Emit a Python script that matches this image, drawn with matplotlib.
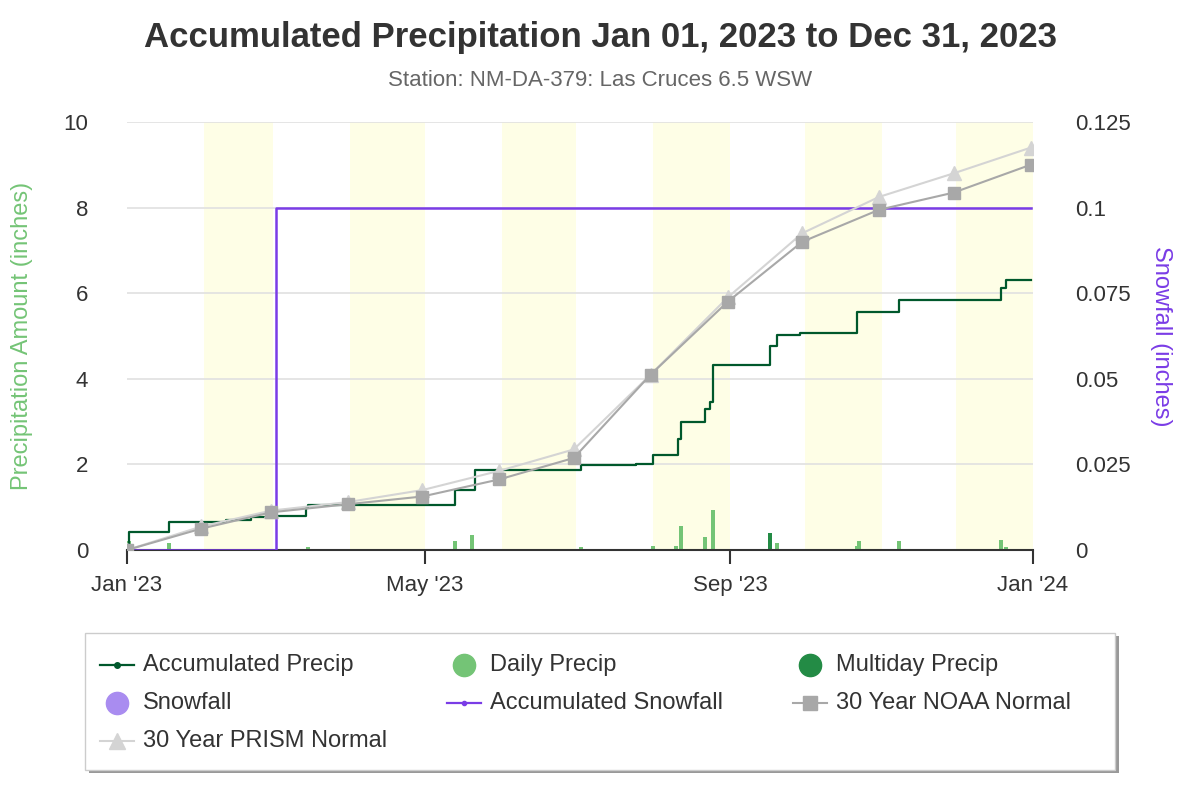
import matplotlib
matplotlib.use("Agg")
import matplotlib.pyplot as plt
from matplotlib.lines import Line2D
from matplotlib.patches import FancyBboxPatch
import datetime as dt
import numpy as np

plt.rcParams['font.family'] = ['Liberation Sans', 'DejaVu Sans']

start = dt.date(2023, 1, 1)
acc_days = [0, 1, 17, 40, 50, 57, 72, 73, 132, 140, 183, 205, 212, 222, 223, 233, 235, 236, 259, 262, 271, 294, 311, 352, 354, 364]
acc_vals = [0.0, 0.43, 0.66, 0.70, 0.76, 0.80, 0.98, 1.04, 1.40, 1.86, 1.98, 2.0, 2.23, 2.60, 2.98, 3.30, 3.45, 4.33, 4.77, 5.03, 5.07, 5.56, 5.84, 6.12, 6.30, 6.30]
daily_days = [1, 17, 73, 132, 139, 183, 212, 221, 223, 233, 236, 262, 294, 295, 311, 352, 354]
daily_vals = [0.2, 0.17, 0.08, 0.22, 0.35, 0.06, 0.1, 0.1, 0.55, 0.3, 0.93, 0.17, 0.1, 0.22, 0.22, 0.23, 0.08]
multi_days = [259]
multi_vals = [0.4]
snow_days = [0, 59, 60, 364]
snow_vals = [0.0, 0.0, 0.1, 0.1]
norm_days = [0, 30, 58, 89, 119, 150, 180, 211, 242, 272, 303, 333, 364]
noaa_vals = [0.0, 0.50, 0.88, 1.07, 1.25, 1.65, 2.15, 4.10, 5.80, 7.20, 7.95, 8.35, 9.00]
prism_vals = [0.0, 0.55, 0.92, 1.12, 1.40, 1.85, 2.35, 4.10, 5.90, 7.40, 8.25, 8.80, 9.40]

d = lambda days: [start + dt.timedelta(days=int(x)) for x in days]

fig = plt.figure(figsize=(12, 8), dpi=100)
ax = fig.add_axes([127/1200, 1-550/800, (1033-127)/1200, (550-122)/800])
ax2 = ax.twinx()

for m in [2, 4, 6, 8, 10, 12]:
    s = dt.date(2023, m, 1)
    e = dt.date(2023, m+1, 1) if m < 12 else dt.date(2024, 1, 1)
    ax.axvspan(s, e, color='#fefee6', zorder=0, lw=0)

for y in [2, 4, 6, 8, 10]:
    ax.axhline(y, color='#e0e0e0', lw=1.2, zorder=1)

ax.bar(d(daily_days), daily_vals, width=1.6, color='#74c476', zorder=2)
ax.bar(d(multi_days), multi_vals, width=1.6, color='#238b45', zorder=2)
ax.step(d(acc_days), acc_vals, where='post', color='#00582c', lw=1.6, zorder=4)
ax.plot(d(norm_days), prism_vals, color='#d4d4d4', lw=1.5, marker='^', ms=10, zorder=5)
ax.plot(d(norm_days), noaa_vals, color='#a8a8a8', lw=1.5, marker='s', ms=9, zorder=5)
# snowfall drawn on right-axis scale (0..0.125 maps to 0..10)
ax.step(d(snow_days), np.array(snow_vals) * 80, where='post', color='#7a3ce6', lw=1.8, zorder=3)

ax.set_xlim(start, dt.date(2024, 1, 1))
ax.set_ylim(0, 10)
ax2.set_ylim(0, 0.125)
ax.set_yticks([0, 2, 4, 6, 8, 10])
ax2.set_yticks([0, 0.025, 0.05, 0.075, 0.1, 0.125])
ax2.set_yticklabels(['0', '0.025', '0.05', '0.075', '0.1', '0.125'])
ax.set_xticks([dt.date(2023, 1, 1), dt.date(2023, 5, 1), dt.date(2023, 9, 1), dt.date(2024, 1, 1)])
ax.set_xticklabels(["Jan '23", "May '23", "Sep '23", "Jan '24"])
for a in (ax, ax2):
    for s in a.spines.values():
        s.set_visible(False)
ax.spines['bottom'].set_visible(True)
ax.spines['bottom'].set_color('#333333')
ax.spines['bottom'].set_linewidth(1.5)
ax.tick_params(axis='x', length=10, width=1.5, color='#333333', labelsize=16, labelcolor='#333333', pad=8)
ax.tick_params(axis='y', length=0, labelsize=16, labelcolor='#333333', pad=28)
ax2.tick_params(axis='y', length=0, labelsize=16, labelcolor='#333333', pad=30)
ax.set_ylabel('Precipitation Amount (inches)', color='#74c476', fontsize=17, labelpad=22)
ax2.set_ylabel('Snowfall (inches)', color='#7a3ce6', fontsize=17, rotation=270, labelpad=30)
ax.set_zorder(ax2.get_zorder() + 1)
ax.patch.set_visible(False)

fig.text(0.5, 1-38/800, 'Accumulated Precipitation Jan 01, 2023 to Dec 31, 2023', ha='center', va='center',
         fontsize=25, fontweight='bold', color='#333333')
fig.text(0.5, 1-80/800, 'Station: NM-DA-379: Las Cruces 6.5 WSW', ha='center', va='center', fontsize=16, color='#666666')

lx0, ly0, lx1, ly1 = 85/1200, 1-770/800, 1115/1200, 1-633/800
fig.patches.append(FancyBboxPatch((lx0+0.003, ly0-0.004), lx1-lx0, ly1-ly0, boxstyle='square,pad=0',
                                  transform=fig.transFigure, fc='#999999', ec='none', zorder=0))
fig.patches.append(FancyBboxPatch((lx0, ly0), lx1-lx0, ly1-ly0, boxstyle='square,pad=0',
                                  transform=fig.transFigure, fc='white', ec='#cccccc', zorder=1))
items = [
    ('#00582c', 'o', 4, 1.6, 'Accumulated Precip'),
    ('#74c476', 'o', 16, 0, 'Daily Precip'),
    ('#238b45', 'o', 16, 0, 'Multiday Precip'),
    ('#a98cf0', 'o', 16, 0, 'Snowfall'),
    ('#7a3ce6', 'o', 3, 1.6, 'Accumulated Snowfall'),
    ('#a8a8a8', 's', 10, 1.5, '30 Year NOAA Normal'),
    ('#d4d4d4', '^', 11, 1.5, '30 Year PRISM Normal'),
]
xs = [100, 447, 793]
ys = [665, 703, 741]
for i, (c, mk, ms, lw, l) in enumerate(items):
    xf = xs[i % 3]/1200; yf = 1-ys[i // 3]/800
    if lw > 0:
        fig.lines.append(Line2D([xf, xf+34/1200], [yf, yf], transform=fig.transFigure, color=c, lw=lw))
    fig.lines.append(Line2D([xf+17/1200], [yf], transform=fig.transFigure, color=c, marker=mk, ms=ms, lw=0))
    fig.text(xf+43/1200, yf, l, va='center', ha='left', fontsize=17, color='#333333')

fig.savefig('out.png', dpi=100)
